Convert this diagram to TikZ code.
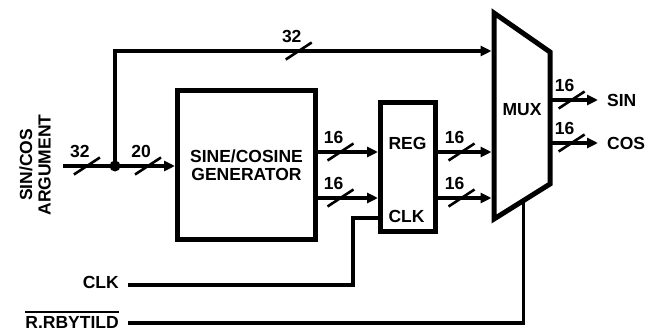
\documentclass[tikz,border=0pt]{standalone}
\usepackage{fontspec}
\setmainfont{Liberation Sans}
\usetikzlibrary{arrows.meta,calc}

\newcommand{\ovl}[1]{\vbox{\hrule height 2pt\kern 3pt\hbox{#1}}}

\tikzset{
  wire/.style={line width=3.2pt},
  blk/.style={draw,line width=5pt,inner sep=0pt},
  lbl/.style={font=\fontsize{17.5}{18.5}\selectfont\bfseries,inner sep=0pt},
  flow/.style={-{Triangle[length=11pt,width=10pt]}},
  pics/busw/.style={code={
    \draw[-,line width=2.6pt] (-13,8.5) -- (13,-8.5);
    \node[lbl] at (-7,-15) {#1};}},
}

\begin{document}
\begin{tikzpicture}[x=1pt,y=-1pt]
  \useasboundingbox (0,0) rectangle (652,331);
  % blocks
  \node[blk,lbl,minimum width=138pt,minimum height=149pt,align=center] (gen) at (246.5,165) {SINE/COSINE\\GENERATOR};
  \node[blk,minimum width=55pt,minimum height=129pt] (reg) at (408,167) {};
  \node[lbl] (regd) at (407.5,143.5) {REG};
  \node[lbl] (regclk) at (406.5,216) {CLK};
  \coordinate (m1) at (494,13);
  \coordinate (m2) at (550,52);
  \coordinate (m3) at (550,184);
  \coordinate (m4) at (494,219);
  \draw[line width=5pt] (m1) -- (m2) -- (m3) -- (m4) -- cycle;
  \node[lbl] (mux) at (522,110) {MUX};
  % inputs and outputs
  \node[lbl,rotate=90,align=center] (arg) at (35,165) {SIN/COS\\ARGUMENT};
  \coordinate (argin) at (63,166);
  \node[circle,fill,minimum size=11pt,inner sep=0pt] (dot) at (115,166) {};
  \node[lbl,anchor=west,inner xsep=9pt] (sin) at (598,100) {SIN};
  \node[lbl,anchor=west,inner xsep=9pt] (cos) at (598,143) {COS};
  \node[lbl,anchor=base east,inner xsep=9pt] (clk) at (128,288.5) {CLK};
  \node[lbl,anchor=base east,inner xsep=9pt] (rst) at (128,328) {\ovl{R.RBYTILD}};
  \coordinate (mi0) at (491.5,51);
  \coordinate (mi1) at (491.5,152);
  \coordinate (mi2) at (491.5,198);
  \coordinate (g1) at ([yshift=13pt]gen.east);
  \coordinate (g2) at ([yshift=-33pt]gen.east);
  \coordinate (ck) at (353,218);
  \coordinate (sel) at ($(m4)!.53!(m3)$);
  % wires
  \draw[wire] (argin) -- pic[pos=.46]{busw=32} (dot.center);
  \draw[wire,flow] (dot.center) -- pic[pos=.55]{busw=20} (dot -| gen.west);
  \draw[wire,flow] (dot.center) |- pic[pos=.744]{busw=32} (mi0);
  \draw[wire,flow] (g1) -- pic[pos=.375]{busw=16} (g1 -| reg.west);
  \draw[wire,flow] (g2) -- pic[pos=.375]{busw=16} (g2 -| reg.west);
  \draw[wire,flow] (mi1 -| reg.east) -- pic[pos=.44]{busw=16} (mi1);
  \draw[wire,flow] (mi2 -| reg.east) -- pic[pos=.44]{busw=16} (mi2);
  \draw[wire,flow] (sin.west -| m2) -- pic[pos=.45]{busw=16} (sin.west);
  \draw[wire,flow] (cos.west -| m2) -- pic[pos=.45]{busw=16} (cos.west);
  \draw[wire] ([yshift=3.5pt]clk.base east) -| (ck) -- (ck -| reg.west);
  \draw[wire] ([yshift=5pt]rst.base east) -| (sel);
\end{tikzpicture}
\end{document}
